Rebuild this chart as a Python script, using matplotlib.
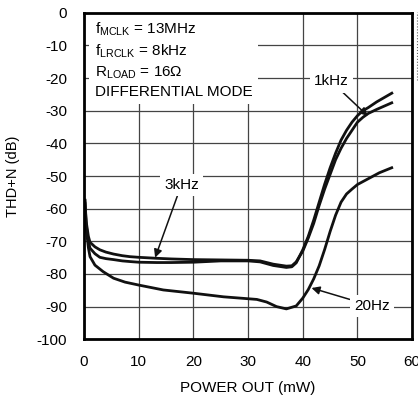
import matplotlib
matplotlib.use("Agg")
import matplotlib.pyplot as plt
from matplotlib.lines import Line2D

plt.rcParams['font.family'] = ['Liberation Sans', 'DejaVu Sans']
plt.rcParams['mathtext.fontset'] = 'custom'
plt.rcParams['mathtext.rm'] = 'Liberation Sans'
plt.rcParams['mathtext.it'] = 'Liberation Sans'

# power out (mW) and THD+N (dB)
p_3k = [0.15, 0.4, 0.8, 1.1, 2, 2.9, 4, 5.4, 7, 8.4, 10, 13.3, 16, 20, 25, 30,
        32.2, 34.6, 37, 38, 38.8, 40, 41, 42, 43, 44, 45, 46, 47, 48, 49, 50,
        51, 52, 53.5, 56.5]
thd_3k = [-57, -64, -68.5, -70.3, -71.7, -72.6, -73.3, -73.9, -74.4, -74.7,
          -74.9, -75.2, -75.4, -75.6, -75.7, -75.8, -76.0, -77.0, -77.6, -77.5,
          -76.3, -73, -69, -64.5, -59, -54, -49.5, -45, -41.5, -38.5, -36,
          -33.5, -32, -30.8, -29.6, -27.4]

p_1k = p_3k
thd_1k = [-57, -65, -70, -72.1, -73.8, -74.9, -75.3, -75.6, -76, -76.2, -76.4,
          -76.5, -76.5, -76.4, -76.0, -76.0, -76.3, -77.4, -78.0, -77.8, -76.6,
          -72.6, -68.5, -63.5, -58, -52.5, -47.5, -43, -39, -36, -33.5, -31.5,
          -30, -29, -27.3, -24.4]

p_20 = [0.15, 0.4, 0.8, 1.1, 2, 3.5, 5.4, 7.5, 10, 14.5, 20, 25.5, 31.6, 33.4,
        35.2, 37, 38.8, 40, 41, 42, 43, 44, 45, 46, 47, 48, 49, 50, 52, 54, 56.5]
thd_20 = [-58, -66, -72, -74.7, -77.3, -79.3, -81.3, -82.5, -83.4, -84.9,
          -85.9, -87.0, -87.8, -88.6, -90.0, -90.7, -89.8, -87.4, -84.8, -81.5,
          -77.5, -72.5, -67, -62, -58, -55.5, -54, -52.6, -50.8, -49, -47.3]

x_ticks = [0, 10, 20, 30, 40, 50, 60]
y_ticks = [0, -10, -20, -30, -40, -50, -60, -70, -80, -90, -100]

fig = plt.figure(figsize=(4.18, 4.01), dpi=100)
ax = fig.add_axes([0.201, 0.154, 0.785, 0.814])

for p, v in [(p_3k, thd_3k), (p_1k, thd_1k), (p_20, thd_20)]:
    ax.plot(p, v, color='#111111', lw=2.0, solid_capstyle='butt', zorder=3)

ax.set_xlim(0, 60)
ax.set_ylim(-100, 0)
ax.set_xticks(x_ticks)
ax.set_yticks(y_ticks)
ax.set_xticklabels([str(t) for t in x_ticks])
ax.set_yticklabels([str(t) for t in y_ticks])
ax.tick_params(axis='x', length=0, labelsize=11, pad=11)
ax.tick_params(axis='y', length=0, labelsize=11, pad=12)
ax.grid(True, color='#444444', lw=0.9)
for s in ax.spines.values():
    s.set_linewidth(2.0)
    s.set_zorder(5)

ax.set_xlabel('POWER OUT (mW)', fontsize=11, labelpad=9)
ax.set_ylabel('THD+N (dB)', fontsize=10.5, labelpad=12)

info = ('f$_{\\mathrm{MCLK}}$ = 13MHz\n'
        'f$_{\\mathrm{LRCLK}}$ = 8kHz\n'
        'R$_{\\mathrm{LOAD}}$ = 16Ω\n'
        'DIFFERENTIAL MODE')
ax.text(2.0, -2.5, info, fontsize=11, va='top', ha='left', linespacing=1.35,
        bbox=dict(facecolor='white', edgecolor='none', pad=4), zorder=4)

arrow = dict(arrowstyle='-|>', color='#111111', lw=1.1,
             mutation_scale=12, shrinkA=0, shrinkB=0)
ax.annotate('1kHz', xy=(51.9, -31.6), xytext=(45.2, -21.0), fontsize=11,
            ha='center', va='center', arrowprops=arrow, zorder=4,
            bbox=dict(facecolor='white', edgecolor='none', pad=3))
ax.annotate('3kHz', xy=(13.0, -75.0), xytext=(17.8, -52.7), fontsize=11,
            ha='center', va='center', arrowprops=arrow, zorder=4,
            bbox=dict(facecolor='white', edgecolor='none', pad=3))
ax.annotate('20Hz', xy=(41.6, -84.3), xytext=(52.6, -89.8), fontsize=11,
            ha='center', va='center', arrowprops=arrow, zorder=4,
            bbox=dict(facecolor='white', edgecolor='none', pad=3))

# clipped neighbour border at the right edge
fig.add_artist(Line2D([0.9975, 0.9975], [0.80, 0.97], transform=fig.transFigure,
                      color='#666666', lw=0.8, ls=':'))

fig.savefig('out.png', dpi=100)
